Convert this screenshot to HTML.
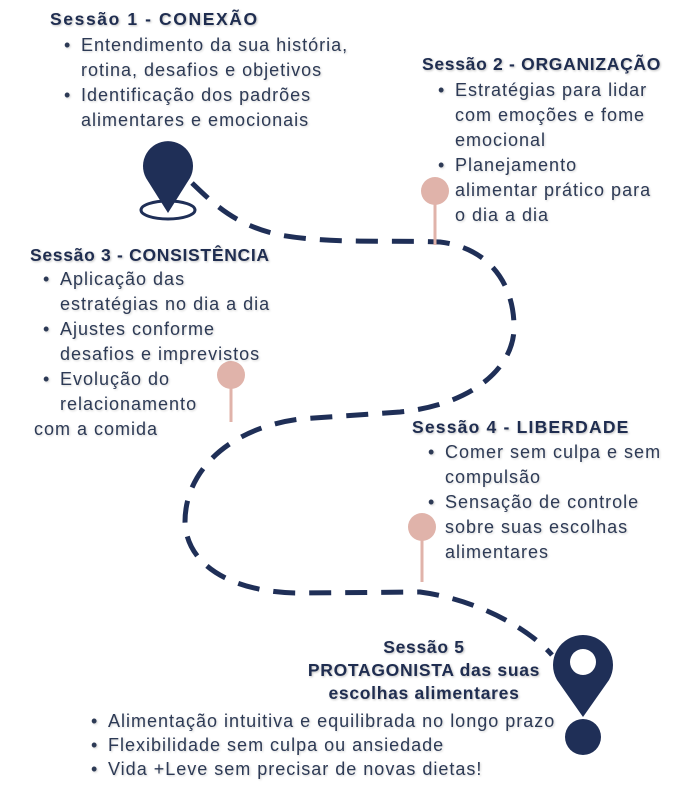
<!DOCTYPE html>
<html><head><meta charset="utf-8"><style>
body{margin:0;width:698px;height:790px;background:#fff;position:relative;overflow:hidden;font-family:"Liberation Sans",sans-serif;color:#2d3a55}
.t{position:absolute;font-weight:bold;font-size:17.5px;letter-spacing:0.7px;color:#1f2d50;text-shadow:1px 1px 2px rgba(0,0,0,.25);white-space:nowrap}
.b{position:absolute;font-size:18px;letter-spacing:1px;line-height:25px;text-shadow:1px 1px 2px rgba(0,0,0,.18);white-space:nowrap}
.b div{position:relative}
.b div::before{content:"•";position:absolute;left:-17px}
svg{position:absolute;left:0;top:0}
</style></head><body>
<svg width="698" height="790">
<path d="M192 183 C215 205 235 225 280 235 C330 244 390 240 440 242 C490 248 515 285 514 330 C512 370 470 405 400 412 L300 419 C230 428 185 470 185 522 C187 570 240 593 300 593 L420 592 C480 600 530 630 552 655" fill="none" stroke="#1f2f57" stroke-width="5" stroke-dasharray="22 14"/>
<line x1="435" y1="195" x2="435" y2="245" stroke="#e0b3aa" stroke-width="3"/>
<circle cx="435" cy="191" r="14" fill="#e0b3aa"/>
<line x1="231" y1="378" x2="231" y2="422" stroke="#e0b3aa" stroke-width="3"/>
<circle cx="231" cy="375" r="14" fill="#e0b3aa"/>
<line x1="422" y1="530" x2="422" y2="582" stroke="#e0b3aa" stroke-width="3"/>
<circle cx="422" cy="527" r="14" fill="#e0b3aa"/>
<ellipse cx="168" cy="210" rx="27" ry="9" fill="none" stroke="#1f2f57" stroke-width="3"/>
<path d="M168 213 L146 178 A25 25 0 1 1 190 178 Z" fill="#1f2f57"/>
<path d="M583 717 L557 680 A30 30 0 1 1 609 680 Z" fill="#1f2f57"/>
<circle cx="583" cy="662" r="13" fill="#fff"/>
<circle cx="583" cy="737" r="18" fill="#1f2f57"/>
</svg>
<div class="t" style="left:50px;top:9px;letter-spacing:1.6px">Sessão 1 - CONEXÃO</div>
<div class="b" style="left:81px;top:33px"><div>Entendimento da sua história,<br>rotina, desafios e objetivos</div><div>Identificação dos padrões<br>alimentares e emocionais</div></div>
<div class="t" style="left:422px;top:54px">Sessão 2 - ORGANIZAÇÃO</div>
<div class="b" style="left:455px;top:78px"><div>Estratégias para lidar<br>com emoções e fome<br>emocional</div><div>Planejamento<br>alimentar prático para<br>o dia a dia</div></div>
<div class="t" style="left:30px;top:245px">Sessão 3 - CONSISTÊNCIA</div>
<div class="b" style="left:60px;top:267px"><div>Aplicação das<br>estratégias no dia a dia</div><div>Ajustes conforme<br>desafios e imprevistos</div><div>Evolução do<br>relacionamento<br><span style="margin-left:-26px">com a comida</span></div></div>
<div class="t" style="left:412px;top:417px;letter-spacing:1.2px">Sessão 4 - LIBERDADE</div>
<div class="b" style="left:445px;top:440px"><div>Comer sem culpa e sem<br>compulsão</div><div>Sensação de controle<br>sobre suas escolhas<br>alimentares</div></div>
<div class="t" style="left:294px;top:636px;width:260px;text-align:center;line-height:23px">Sessão 5<br>PROTAGONISTA das suas<br>escolhas alimentares</div>
<div class="b" style="left:108px;top:709px;line-height:24px"><div>Alimentação intuitiva e equilibrada no longo prazo</div><div>Flexibilidade sem culpa ou ansiedade</div><div>Vida +Leve sem precisar de novas dietas!</div></div>
</body></html>
